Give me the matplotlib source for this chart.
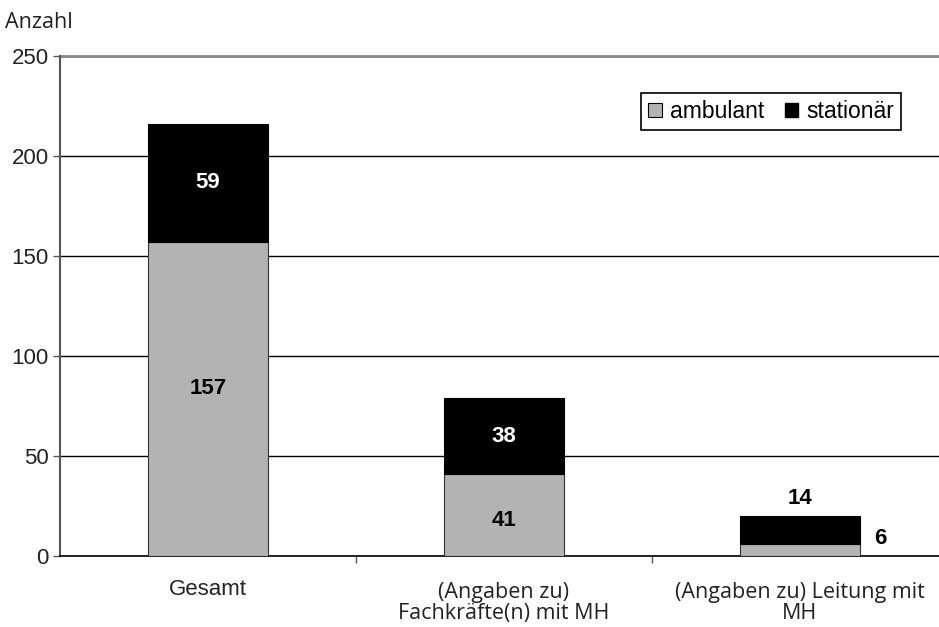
import matplotlib
matplotlib.use("Agg")
import matplotlib.pyplot as plt
import numpy as np
from matplotlib.patches import Patch

categories = ["Gesamt", "(Angaben zu)\nFachkräfte(n) mit MH", "(Angaben zu) Leitung mit\nMH"]
ambulant = [157, 41, 6]
stationaer = [59, 38, 14]
yticks = [0, 50, 100, 150, 200, 250]

W, H = 939, 627
fig = plt.figure(figsize=(W / 100, H / 100), dpi=100)
left, right, top, bottom = 60, 948, 56, 556
ax = fig.add_axes([left / W, 1 - bottom / H, (right - left) / W, (bottom - top) / H])

x = np.arange(len(categories))
bw = 0.405
gray = "#b3b3b3"
ax.bar(x, ambulant, bw, color=gray, edgecolor="#333333", linewidth=0.8, zorder=3)
ax.bar(x, stationaer, bw, bottom=ambulant, color="black", edgecolor="black", linewidth=0.8, zorder=3)

ax.set_xlim(-0.5, 2.5)
ax.set_ylim(0, 250)
ax.set_yticks(yticks)
ax.yaxis.grid(True, color="black", linewidth=1.0, zorder=0)
ax.set_axisbelow(True)

ax.spines["top"].set_visible(False)
ax.spines["right"].set_visible(False)
ax.spines["left"].set_color("#555555")
ax.spines["left"].set_linewidth(1.5)
ax.spines["bottom"].set_color("black")
ax.spines["bottom"].set_linewidth(1.2)
ax.axhline(250, color="#888888", linewidth=2.0, zorder=1, clip_on=False)

arial = "Liberation Sans"
opens = "Open Sans"
fs = 16
ax.tick_params(axis="y", direction="out", length=5, width=1, color="#555555", labelsize=fs, pad=3)
for lab in ax.get_yticklabels():
    lab.set_fontfamily(arial)
    lab.set_color("#222222")

ax.set_xticks(x)
ax.set_xticklabels(["", "", ""])
ax.tick_params(axis="x", which="major", length=0)
ax.set_xticks([0.5, 1.5], minor=True)
ax.tick_params(axis="x", which="minor", direction="out", length=5, width=1, color="#555555")

# x category labels
ax.text(0, -11.5, categories[0], ha="center", va="top", fontsize=fs, family=arial, color="#222222")
ax.text(1, -13, categories[1], ha="center", va="top", fontsize=15.5, family=opens, color="#222222", linespacing=1.0)
ax.text(2, -13, categories[2], ha="center", va="top", fontsize=15.5, family=opens, color="#222222", linespacing=1.0)

# value labels
lab_kw = dict(ha="center", va="center", fontsize=fs, fontweight="bold", family=arial)
for i in range(2):
    ax.text(x[i], ambulant[i] / 2 + (5 if i == 0 else -3), str(ambulant[i]), color="black", **lab_kw)
    ax.text(x[i], ambulant[i] + stationaer[i] / 2, str(stationaer[i]), color="white", **lab_kw)
ax.text(x[2], ambulant[2] + stationaer[2] + 9, str(stationaer[2]), color="black", **lab_kw)
ax.text(x[2] + 0.27, ambulant[2] + 3, str(ambulant[2]), color="black", **lab_kw)

fig.text(5 / W, 1 - 22 / H, "Anzahl", ha="left", va="center", fontsize=15.5, family=opens, color="#222222")

handles = [Patch(facecolor=gray, edgecolor="black", linewidth=0.8, label="ambulant"),
           Patch(facecolor="black", edgecolor="black", label="stationär")]
leg = fig.legend(handles=handles, loc="upper left", bbox_to_anchor=(641 / W, 1 - 93 / H), ncol=2,
                 frameon=True, fancybox=False, edgecolor="black", framealpha=1,
                 prop={"family": arial, "size": 16.5}, handlelength=0.6, handleheight=0.6,
                 handletextpad=0.35, columnspacing=0.9, borderpad=0.3, borderaxespad=0)
leg.get_frame().set_linewidth(1.2)

fig.savefig("out.png", dpi=100)
